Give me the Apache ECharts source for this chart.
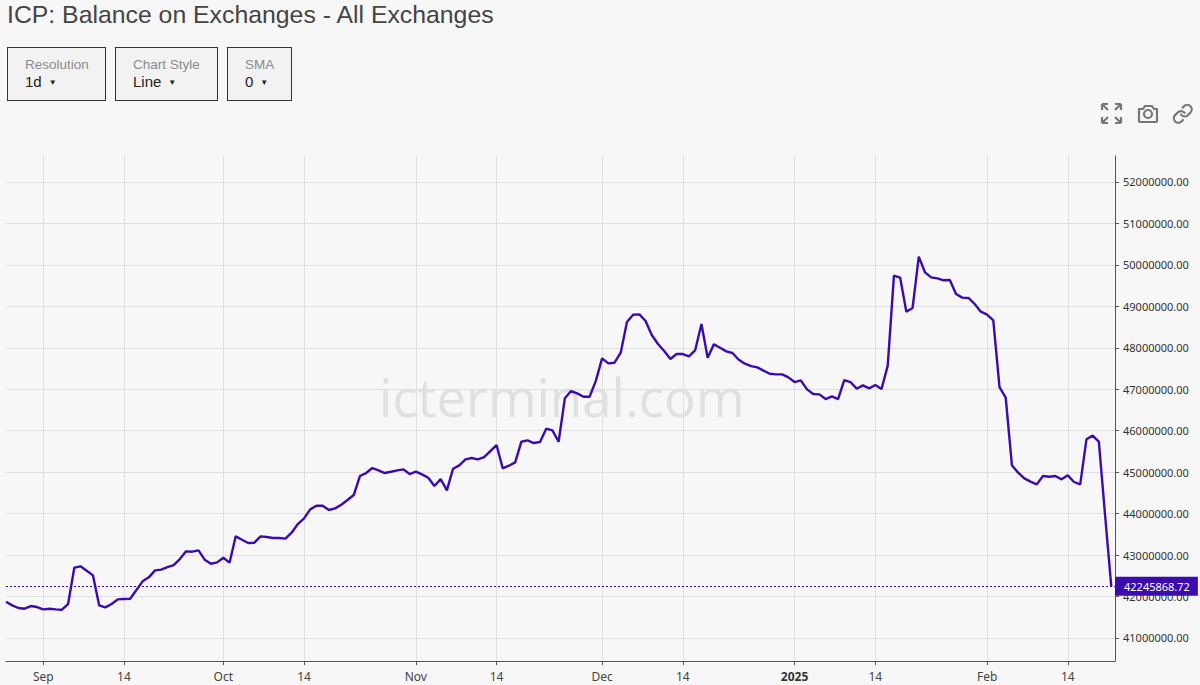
<!DOCTYPE html>
<html>
<head>
<meta charset="utf-8">
<title>ICP: Balance on Exchanges</title>
<script src="https://cdn.jsdelivr.net/npm/echarts@6/dist/echarts.min.js"></script>
<style>
  html, body { margin: 0; padding: 0; background: #f7f7f7; }
  #chart { position: absolute; left: 0; top: 0; width: 1200px; height: 685px; }
  .btn {
    position: absolute; top: 47px; height: 52px; box-sizing: content-box;
    background: #f2f2f2; border: 1px solid #333;
    font-family: "Liberation Sans", Arial, sans-serif;
  }
  .btn span { position: absolute; left: 17px; white-space: nowrap; }
  .btn .lab { top: 9px; color: #8c8c8c; font-size: 13.5px; }
  .btn .val { top: 25px; color: #222; font-size: 15px; }
  .btn .val i { font-style: normal; font-size: 8px; margin-left: 7px; vertical-align: 2px; }
  #icons { position: absolute; left: 1098px; top: 100px; }
</style>
</head>
<body>
<div id="chart"></div>
<div class="btn" style="left:7px;width:97px"><span class="lab">Resolution</span><span class="val">1d<i>▼</i></span></div>
<div class="btn" style="left:115px;width:101px"><span class="lab">Chart Style</span><span class="val">Line<i>▼</i></span></div>
<div class="btn" style="left:227px;width:63px"><span class="lab">SMA</span><span class="val">0<i>▼</i></span></div>
<svg id="icons" width="96" height="28" fill="none" stroke="#777" stroke-width="2.2">
  <path d="M4 4l6 6M4 4v6M4 4h6M23 4l-6 6M23 4v6M23 4h-6M4 23l6-6M4 23v-6M4 23h6M23 23l-6-6M23 23v-6M23 23h-6"/>
  <path d="M41 9h4l2-3h7l2 3h3v12a1 1 0 0 1-1 1H42a1 1 0 0 1-1-1z" stroke-linejoin="round"/>
  <circle cx="50" cy="14" r="4"/>
  <g transform="translate(74 3) scale(0.9)" stroke-linecap="round" stroke-linejoin="round" stroke-width="2.4">
    <path d="M10 13a5 5 0 0 0 7.54.54l3-3a5 5 0 0 0-7.07-7.07l-1.72 1.71"/>
    <path d="M14 11a5 5 0 0 0-7.54-.54l-3 3a5 5 0 0 0 7.07 7.07l1.71-1.71"/>
  </g>
</svg>
<script>
// balance per day in millions of ICP
var balanceM = [
  41.876,41.787,41.723,41.707,41.771,41.747,41.691,41.707,41.691,41.683,41.819,42.696,42.728,42.624,42.511,41.787,
  41.739,41.819,41.932,41.940,41.948,42.157,42.366,42.463,42.632,42.648,42.712,42.760,42.905,43.090,43.082,43.114,
  42.889,42.792,42.825,42.937,42.817,43.452,43.371,43.291,43.299,43.452,43.436,43.412,43.412,43.396,43.540,43.749,
  43.886,44.103,44.191,44.191,44.087,44.127,44.215,44.328,44.448,44.907,44.979,45.100,45.044,44.979,45.011,45.044,
  45.068,44.955,45.011,44.947,44.867,44.666,44.835,44.561,45.084,45.164,45.309,45.341,45.309,45.365,45.510,45.655,
  45.092,45.156,45.237,45.735,45.767,45.703,45.727,46.049,46.009,45.735,46.781,46.958,
  46.901,46.821,46.821,47.207,47.745,47.625,47.641,47.882,48.622,48.799,48.807,48.646,48.308,48.091,47.922,47.729,
  47.850,47.850,47.794,47.946,48.574,47.761,48.083,48.003,47.914,47.874,47.713,47.617,47.560,47.528,47.448,47.375,
  47.359,47.359,47.287,47.174,47.215,46.997,46.885,46.877,46.764,46.829,46.764,47.223,47.174,47.014,
  47.095,47.022,47.103,47.006,47.569,49.741,49.692,48.872,48.960,50.199,49.821,49.700,49.676,49.628,49.636,49.298,
  49.210,49.202,49.057,48.872,48.800,48.663,47.054,46.797,
  45.165,44.988,44.851,44.771,44.706,44.907,44.891,44.907,44.827,44.924,44.763,44.706,45.792,45.881,45.736,43.966,
  42.24586872
];
// day position of each labelled date on the x axis
var xTickIndex = [6, 19, 35, 48, 66, 79, 96, 109, 127, 140, 158, 171];
var xTickLabels = ['Sep', '14', 'Oct', '14', 'Nov', '14', 'Dec', '14', '2025', '14', 'Feb', '14'];
var yTicks = [41, 42, 43, 44, 45, 46, 47, 48, 49, 50, 51, 52].map(function (m) { return m * 1e6; });

var lineColor = '#3d0ab0';
var points = balanceM.map(function (v, i) { return [i, v * 1e6]; });
var lastValue = points[points.length - 1][1];

var myChart = echarts.init(document.getElementById('chart'), null, { renderer: 'svg' });

var option = {
  backgroundColor: '#f7f7f7',
  animation: false,
  title: {
    text: 'ICP: Balance on Exchanges - All Exchanges',
    left: 2, top: -3,
    textStyle: { fontFamily: '"Liberation Sans", Arial', fontSize: 24.8, fontWeight: 'normal', color: '#444' }
  },
  graphic: [{
    type: 'text', left: 379, top: 370, z: -1, silent: true,
    style: { text: 'icterminal.com', fontFamily: '"Open Sans"', fontSize: 52.8, fill: '#e0e0e0' }
  }],
  grid: { left: 6, right: 85, top: 156, bottom: 24 },
  xAxis: {
    type: 'value',
    min: 0, max: 178.6,
    axisLine: { onZero: false, lineStyle: { color: '#555' } },
    axisTick: { length: 4, lineStyle: { color: '#555' }, customValues: xTickIndex },
    axisLabel: {
      customValues: xTickIndex, hideOverlap: false, showMinLabel: true, showMaxLabel: true,
      margin: 9, fontFamily: '"Noto Sans"', fontSize: 12, color: '#444',
      formatter: function (v) {
        var s = xTickLabels[xTickIndex.indexOf(v)];
        return s === '2025' ? '{b|2025}' : s;
      },
      rich: { b: { fontFamily: '"Noto Sans"', fontSize: 12, fontWeight: 'bold', color: '#333' } }
    },
    splitLine: { show: true, lineStyle: { color: '#e0e0e0', width: 1 } }
  },
  yAxis: {
    type: 'value',
    position: 'right',
    min: 40445000, max: 52627000,
    axisLine: { show: true, onZero: false, lineStyle: { color: '#555' } },
    axisTick: { show: true, length: 4, lineStyle: { color: '#555' }, customValues: yTicks },
    axisLabel: {
      customValues: yTicks, margin: 8, fontFamily: '"Noto Sans"', fontSize: 11, color: '#333',
      formatter: function (v) { return v.toFixed(2); }
    },
    splitLine: { show: true, lineStyle: { color: '#e0e0e0', width: 1 } }
  },
  series: [{
    type: 'line',
    data: points,
    showSymbol: false,
    lineStyle: { color: lineColor, width: 2.4 },
    markLine: {
      silent: true, symbol: 'none',
      lineStyle: { color: lineColor, type: [2, 2], width: 1.2 },
      data: [{ yAxis: lastValue }],
      label: {
        position: 'end', distance: 0,
        formatter: lastValue.toFixed(2),
        backgroundColor: lineColor, color: '#fff',
        fontFamily: '"Noto Sans"', fontSize: 11,
        padding: [4, 8, 4, 9]
      }
    }
  }]
};

myChart.setOption(option);
</script>
</body>
</html>
